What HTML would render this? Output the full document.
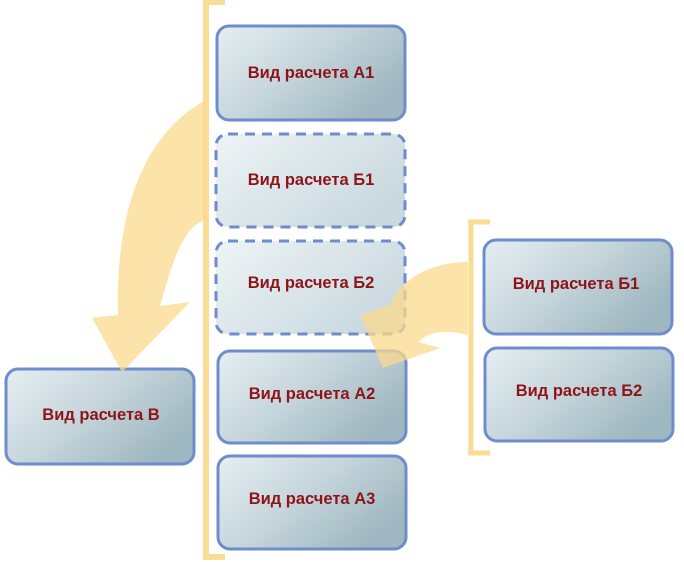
<!DOCTYPE html>
<html><head><meta charset="utf-8"><style>
html,body{margin:0;padding:0;background:#fff;}
svg{display:block}
text{font-family:"Liberation Sans",sans-serif;font-weight:bold;font-size:16.5px;fill:#8e1418;text-anchor:middle}
</style></head><body>
<svg width="684" height="562" viewBox="0 0 684 562" xmlns="http://www.w3.org/2000/svg">
<defs>
<linearGradient id="g" x1="0" y1="0" x2="1" y2="0.6">
<stop offset="0" stop-color="#e6eff2"/><stop offset="0.5" stop-color="#c6d6dc"/><stop offset="1" stop-color="#9fb7c0"/></linearGradient>
<linearGradient id="gl" x1="0" y1="0" x2="1" y2="0.6">
<stop offset="0" stop-color="#eef4f6"/><stop offset="1" stop-color="#c9d9df"/></linearGradient>
</defs>
<path d="M206 0 V560 M203 2 H225 M203 557 H225" stroke="#fbdc96" stroke-width="6" fill="none"/>
<path d="M471 220 V455 M468 222 H490 M468 453 H490" stroke="#fbdc96" stroke-width="5" fill="none"/>
<g stroke="#6f8ccc" stroke-width="3">
<rect x="217" y="26" width="188" height="94" rx="12" fill="url(#g)"/>
<rect x="216" y="134" width="189" height="93" rx="12" fill="url(#gl)" stroke-dasharray="10,7"/>
<rect x="216" y="241" width="189" height="93" rx="12" fill="url(#gl)" stroke-dasharray="10,7"/>
<rect x="218" y="351" width="188" height="92" rx="12" fill="url(#g)"/>
<rect x="218" y="456" width="188" height="93" rx="12" fill="url(#g)"/>
<rect x="484" y="240" width="188" height="94" rx="12" fill="url(#g)"/>
<rect x="485" y="348" width="188" height="93" rx="12" fill="url(#g)"/>
<rect x="6" y="369" width="188" height="95" rx="12" fill="url(#g)"/>
</g>
<path d="M206 100 C150 130 115 200 118 315 L92 318 L122 372 L190 302 L160 306 C168 280 180 225 206 220 Z" fill="#fbd98c" opacity="0.75"/>
<path d="M468 262 C430 262 400 280 390 305 L360 315 L383 368 L440 348 L418 342 C430 330 450 330 468 335 Z" fill="#fbd98c" opacity="0.75"/>
<text x="311" y="78">Вид расчета А1</text>
<text x="311" y="185">Вид расчета Б1</text>
<text x="311" y="288">Вид расчета Б2</text>
<text x="312" y="399">Вид расчета А2</text>
<text x="312" y="504">Вид расчета А3</text>
<text x="576" y="289">Вид расчета Б1</text>
<text x="579" y="396">Вид расчета Б2</text>
<text x="101" y="420">Вид расчета В</text>
</svg>
</body></html>
